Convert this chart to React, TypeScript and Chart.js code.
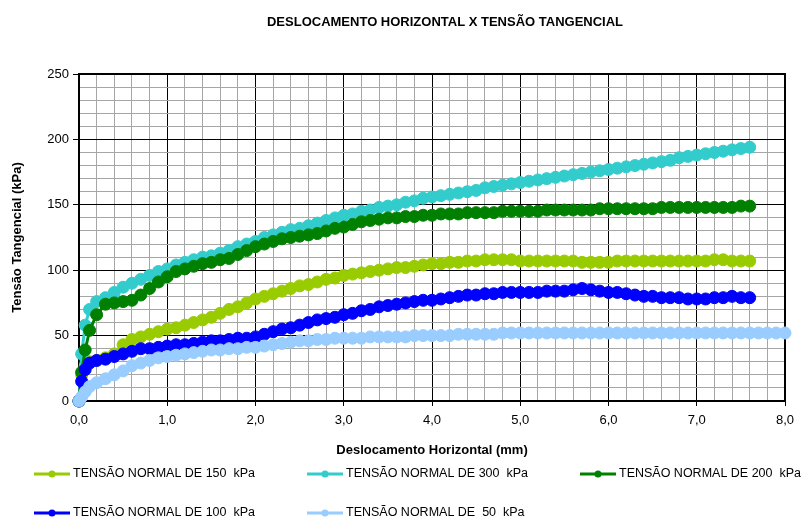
import React, { useEffect, useRef } from 'react';
import { Chart, registerables } from 'chart.js';

Chart.register(...registerables);

const CHART_TITLE = 'DESLOCAMENTO HORIZONTAL X TENSÃO TANGENCIAL';
const X_AXIS_TITLE = 'Deslocamento Horizontal (mm)';
const Y_AXIS_TITLE = 'Tensão Tangencial (kPa)';

// Horizontal displacement (mm) of the readings
const X_MAIN = [
  0, 0.03, 0.07, 0.12, 0.2, 0.3, 0.4, 0.5, 0.6, 0.7, 0.8, 0.9,
  1.0, 1.1, 1.2, 1.3, 1.4, 1.5, 1.6, 1.7, 1.8, 1.9,
  2.0, 2.1, 2.2, 2.3, 2.4, 2.5, 2.6, 2.7, 2.8, 2.9,
  3.0, 3.1, 3.2, 3.3, 3.4, 3.5, 3.6, 3.7, 3.8, 3.9,
  4.0, 4.1, 4.2, 4.3, 4.4, 4.5, 4.6, 4.7, 4.8, 4.9,
  5.0, 5.1, 5.2, 5.3, 5.4, 5.5, 5.6, 5.7, 5.8, 5.9,
  6.0, 6.1, 6.2, 6.3, 6.4, 6.5, 6.6, 6.7, 6.8, 6.9,
  7.0, 7.1, 7.2, 7.3, 7.4, 7.5, 7.6,
];
const X_50 = [
  0, 0.03, 0.07, 0.12, 0.2, 0.3, 0.4, 0.5, 0.6, 0.7, 0.8, 0.9,
  1.0, 1.1, 1.2, 1.3, 1.4, 1.5, 1.6, 1.7, 1.8, 1.9,
  2.0, 2.1, 2.2, 2.3, 2.4, 2.5, 2.6, 2.7, 2.8, 2.9,
  3.0, 3.1, 3.2, 3.3, 3.4, 3.5, 3.6, 3.7, 3.8, 3.9,
  4.0, 4.1, 4.2, 4.3, 4.4, 4.5, 4.6, 4.7, 4.8, 4.9,
  5.0, 5.1, 5.2, 5.3, 5.4, 5.5, 5.6, 5.7, 5.8, 5.9,
  6.0, 6.1, 6.2, 6.3, 6.4, 6.5, 6.6, 6.7, 6.8, 6.9,
  7.0, 7.1, 7.2, 7.3, 7.4, 7.5, 7.6, 7.7, 7.8, 7.9, 8.0,
];

// Tangential stress (kPa)
const T_150 = [
  0, 20, 27, 30, 31, 33, 36, 43, 47, 49, 51, 53,
  55, 56, 58, 60, 62, 64, 67, 70, 72, 75,
  78, 80, 82, 84, 86, 88, 89, 91, 93, 94,
  96, 97, 98, 99, 100, 101, 102, 102, 103, 104,
  105, 105, 106, 106, 107, 107, 108, 108, 108, 108,
  107, 107, 107, 107, 107, 107, 107, 106, 106, 106,
  106, 107, 107, 107, 107, 107, 107, 107, 107, 107,
  107, 107, 108, 108, 107, 107, 107,
];
const T_300 = [
  0, 36, 58, 70, 76, 79, 83, 87, 90, 93, 96, 99,
  101, 104, 106, 108, 110, 111, 113, 115, 118, 120,
  122, 125, 127, 129, 131, 132, 134, 136, 138, 140,
  142, 143, 145, 146, 148, 149, 150, 152, 153, 155,
  156, 157, 158, 159, 160, 161, 163, 164, 165, 166,
  167, 168, 169, 170, 171, 172, 173, 174, 175, 176,
  177, 178, 179, 180, 181, 182, 183, 184, 186, 187,
  188, 189, 190, 191, 192, 193, 194,
];
const T_200 = [
  0, 22, 39, 54, 66, 74, 75, 76, 77, 81, 86, 91,
  95, 99, 101, 103, 105, 106, 108, 109, 112, 115,
  118, 120, 122, 124, 125, 126, 127, 128, 130, 132,
  133, 135, 137, 138, 139, 140, 140, 141, 141, 142,
  142, 143, 143, 143, 144, 144, 144, 144, 145, 145,
  145, 145, 145, 146, 146, 146, 146, 146, 146, 147,
  147, 147, 147, 147, 147, 147, 148, 148, 148, 148,
  148, 148, 148, 148, 148, 149, 149,
];
const T_100 = [
  0, 15, 24, 29, 31, 32, 34, 36, 38, 40, 40, 41,
  42, 43, 43, 44, 45, 46, 46, 47, 48, 48,
  49, 51, 53, 55, 56, 58, 60, 62, 63, 64,
  66, 67, 69, 70, 72, 73, 74, 75, 76, 77,
  77, 78, 79, 80, 81, 81, 82, 82, 83, 83,
  83, 83, 83, 84, 84, 84, 85, 86, 85, 84,
  83, 83, 82, 81, 80, 80, 79, 79, 79, 78,
  78, 78, 79, 79, 80, 79, 79,
];
const T_50 = [
  0, 3, 7, 11, 14, 17, 20, 23, 27, 29, 31, 33,
  34, 35, 36, 37, 38, 39, 39, 40, 40, 41,
  41, 42, 43, 44, 45, 46, 46, 47, 47, 48,
  48, 48, 48, 49, 49, 49, 49, 49, 50, 50,
  50, 50, 50, 51, 51, 51, 51, 51, 52, 52,
  52, 52, 52, 52, 52, 52, 52, 52, 52, 52,
  52, 52, 52, 52, 52, 52, 52, 52, 52, 52,
  52, 52, 52, 52, 52, 52, 52, 52, 52, 52, 52,
];

const SERIES_LABELS = [
  'TENSÃO NORMAL DE 150  kPa',
  'TENSÃO NORMAL DE 300  kPa',
  'TENSÃO NORMAL DE 200  kPa',
  'TENSÃO NORMAL DE 100  kPa',
  'TENSÃO NORMAL DE  50  kPa',
];
const SERIES_COLORS = ['#99CC00', '#33CCCC', '#008000', '#0000FF', '#99CCFF'];
const SERIES_X = [X_MAIN, X_MAIN, X_MAIN, X_MAIN, X_50];
const SERIES_Y = [T_150, T_300, T_200, T_100, T_50];

const FONT = '"Liberation Sans", Arial, sans-serif';

const isMajorX = (v: number) => Math.abs(v - Math.round(v)) < 1e-6;
const isMajorY = (v: number) => Math.abs(v % 50) < 1e-6;

const LEGEND_POS = [
  { x: 34, y: 474 },
  { x: 307, y: 474 },
  { x: 580, y: 474 },
  { x: 34, y: 513 },
  { x: 307, y: 513 },
];

const decorPlugin = {
  id: 'decor',
  beforeDatasetsDraw(chart: any) {
    const { ctx, chartArea } = chart;
    ctx.save();
    ctx.strokeStyle = '#000';
    ctx.lineWidth = 2;
    ctx.strokeRect(chartArea.left, chartArea.top, chartArea.right - chartArea.left, chartArea.bottom - chartArea.top);
    ctx.restore();
  },
  afterDraw(chart: any) {
    const { ctx } = chart;
    ctx.save();
    ctx.fillStyle = '#000';
    ctx.font = `bold 13px ${FONT}`;
    ctx.textAlign = 'center';
    ctx.textBaseline = 'middle';
    ctx.fillText(CHART_TITLE, 445, 22);

    ctx.font = `12.5px ${FONT}`;
    ctx.textAlign = 'left';
    chart.data.datasets.forEach((ds: any, i: number) => {
      const p = LEGEND_POS[i];
      if (!p) return;
      ctx.strokeStyle = ds.borderColor;
      ctx.lineWidth = 3;
      ctx.beginPath();
      ctx.moveTo(p.x, p.y);
      ctx.lineTo(p.x + 36, p.y);
      ctx.stroke();
      ctx.fillStyle = ds.borderColor;
      ctx.beginPath();
      ctx.arc(p.x + 18, p.y, 3.5, 0, Math.PI * 2);
      ctx.fill();
      ctx.fillStyle = '#000';
      ctx.fillText(ds.label, p.x + 39, p.y);
    });
    ctx.restore();
  },
};

export default function App() {
  const ref = useRef<HTMLCanvasElement | null>(null);

  useEffect(() => {
    if (!ref.current) return;
    const datasets = SERIES_LABELS.map((label, i) => ({
      label,
      data: SERIES_X[i].map((x, j) => ({ x, y: SERIES_Y[i][j] })),
      borderColor: SERIES_COLORS[i],
      backgroundColor: SERIES_COLORS[i],
      pointBackgroundColor: SERIES_COLORS[i],
      pointBorderColor: SERIES_COLORS[i],
      pointRadius: 6,
      pointBorderWidth: 1,
      borderWidth: 3,
      tension: 0,
      clip: false as any,
      order: SERIES_LABELS.length - i,
    }));

    const chart = new Chart(ref.current, {
      type: 'line',
      data: { datasets },
      plugins: [decorPlugin],
      options: {
        responsive: false,
        animation: false,
        layout: { padding: { top: 74, right: 18, bottom: 0, left: 0 } },
        plugins: {
          legend: { display: false },
          title: { display: false },
          tooltip: { enabled: false },
        },
        scales: {
          x: {
            type: 'linear',
            min: 0,
            max: 8,
            afterFit: (scale: any) => { scale.height = 119; },
            ticks: {
              stepSize: 0.2,
              autoSkip: false,
              maxRotation: 0,
              padding: 7,
              color: '#000',
              font: { family: FONT, size: 13 },
              callback: (v: any) => (isMajorX(Number(v)) ? Number(v).toFixed(1).replace('.', ',') : ''),
            },
            grid: {
              color: (c: any) => (isMajorX(c.tick.value) ? '#000' : '#a6a6a6'),
              tickColor: (c: any) => (isMajorX(c.tick.value) ? '#000' : 'rgba(0,0,0,0)'),
              tickLength: 5,
              lineWidth: 1,
            },
            border: { display: true, color: '#000', width: 2 },
            title: {
              display: true,
              text: X_AXIS_TITLE,
              color: '#000',
              font: { family: FONT, size: 13, weight: 'bold' },
              padding: { top: 0, bottom: 62 },
            },
          },
          y: {
            type: 'linear',
            min: 0,
            max: 250,
            afterFit: (scale: any) => { scale.width = 79; },
            ticks: {
              stepSize: 10,
              autoSkip: false,
              padding: 4,
              color: '#000',
              font: { family: FONT, size: 13 },
              callback: (v: any) => (isMajorY(Number(v)) ? String(v) : ''),
            },
            grid: {
              color: (c: any) => (isMajorY(c.tick.value) ? '#000' : '#a6a6a6'),
              tickColor: (c: any) => (isMajorY(c.tick.value) ? '#000' : 'rgba(0,0,0,0)'),
              tickLength: 6,
              lineWidth: 1,
            },
            border: { display: true, color: '#000', width: 2 },
            title: {
              display: true,
              text: Y_AXIS_TITLE,
              color: '#000',
              font: { family: FONT, size: 13, weight: 'bold' },
              padding: { top: 10, bottom: 0 },
            },
          },
        },
      } as any,
    });
    return () => chart.destroy();
  }, []);

  return (
    <div style={{ position: 'absolute', left: 0, top: 0, width: 803, height: 520, background: '#fff' }}>
      <canvas ref={ref} width={803} height={520} style={{ display: 'block' }} />
    </div>
  );
}
